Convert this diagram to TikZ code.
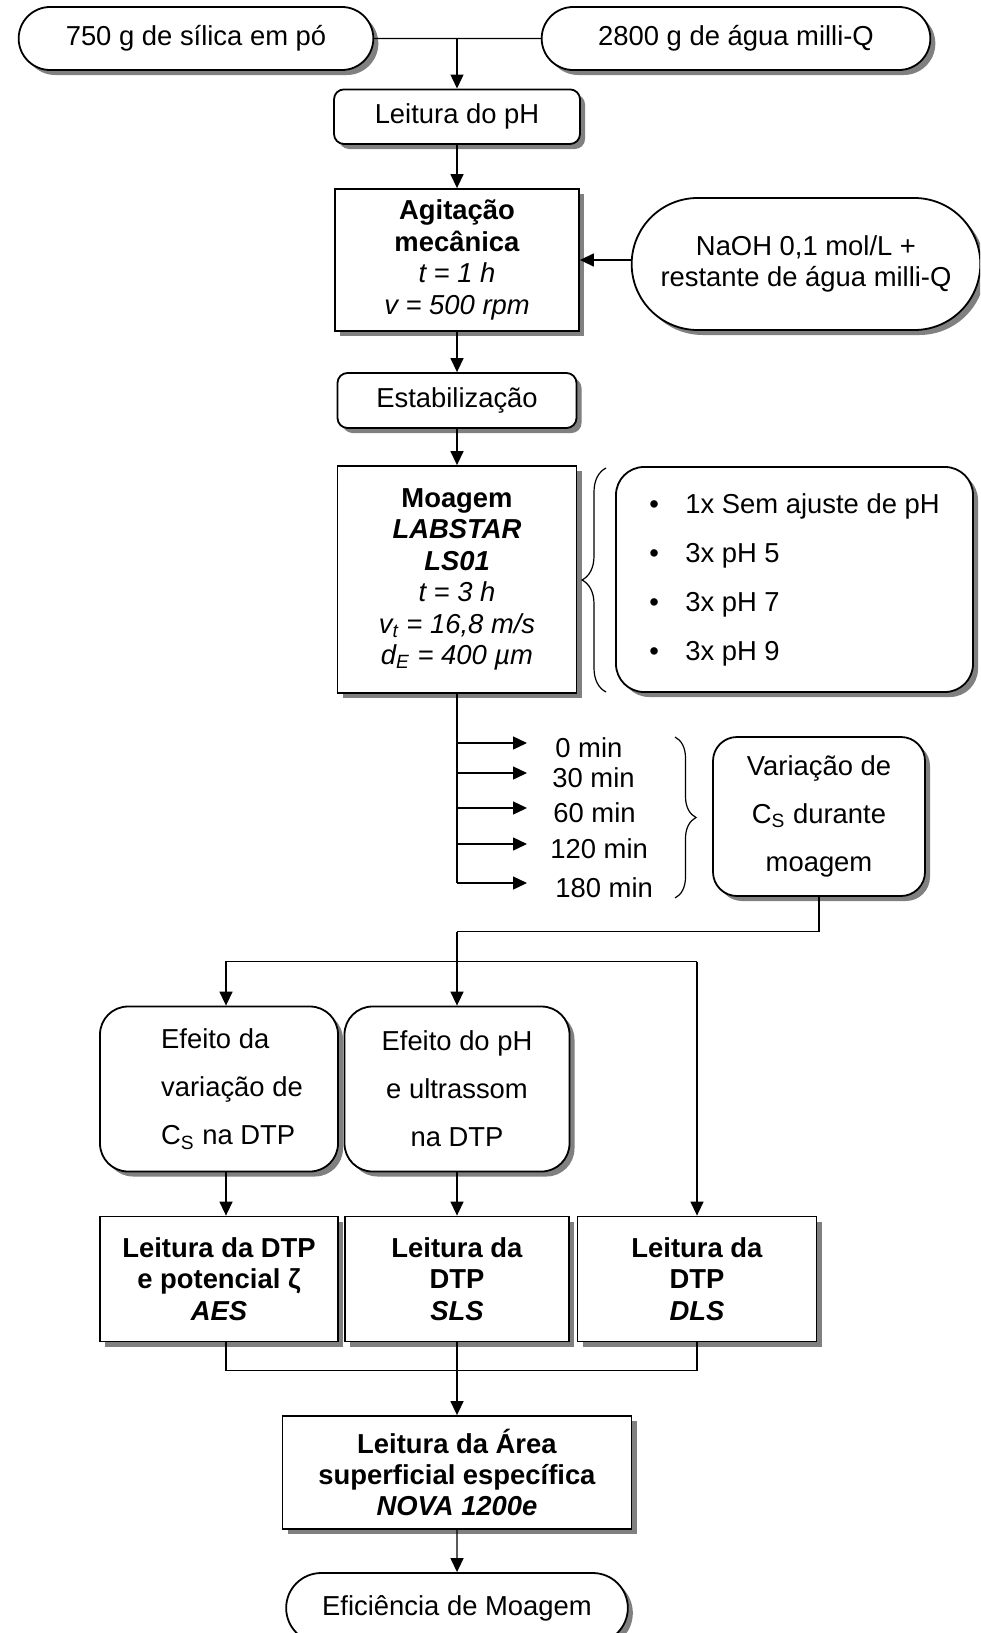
\documentclass[tikz,border=0pt]{standalone}
\usepackage{fontspec}
\setmainfont{Liberation Sans}
\usetikzlibrary{arrows.meta, shapes.misc, shadows, decorations.pathreplacing}
\tikzstyle{flow} = [-{Triangle[length=7pt, width=6.5pt]}, line width=0.7pt]
\tikzstyle{shadowed} = [drop shadow={shadow xshift=2.5pt, shadow yshift=-2.5pt, fill=black!50, opacity=1}]
\tikzstyle{terminal} = [rounded rectangle, draw=black, line width=0.9pt, fill=white, shadowed]
\tikzstyle{process} = [rectangle, draw=black, line width=0.9pt, fill=white, shadowed, align=center]
\tikzstyle{softbox} = [process, rounded corners=5pt]
\tikzstyle{bubble} = [process, rounded corners=14pt, font=\fontsize{13.7}{24}\selectfont]
\tikzstyle{curly} = [decorate, line width=0.6pt]

\begin{document}
\begin{tikzpicture}[x=0.5pt, y=-0.5pt, font=\fontsize{13.7}{15.7}\selectfont]
	\useasboundingbox (0, 0) rectangle (980, 1633);
	\clip (0, 0) rectangle (980, 1633);

	% raw materials
	\node (Silica) [terminal, minimum width=184pt, minimum height=31.5pt] at (196, 38.5) {750 g de sílica em pó};
	\node (Agua) [terminal, minimum width=201pt, minimum height=31.5pt] at (736, 38.5) {2800 g de água milli-Q};
	\draw [line width=0.7pt] (Silica) -- (Agua);
	\coordinate (Mix) at (457, 38.5);

	\node (pH) [softbox, minimum width=123pt, minimum height=27.3pt] at (457, 116.7) {Leitura do pH};
	\draw [flow] (Mix) -- (pH);

	% stirring
	\node (Agit) [process, minimum width=122pt, minimum height=71pt] at (457, 260)
		{\textbf{Agitação}\\\textbf{mecânica}\\\textit{t = 1 h}\\\textit{v = 500 rpm}};
	\draw [flow] (pH) -- (Agit);
	\node (NaOH) [terminal, minimum width=181pt, minimum height=66pt, align=center] at (806, 264)
		{NaOH 0,1 mol/L +\\restante de água milli-Q};
	\draw [flow] (NaOH.west |- Agit) -- (Agit);

	\node (Estab) [softbox, minimum width=119.5pt, minimum height=27.5pt] at (457, 400.5) {Estabilização};
	\draw [flow] (Agit) -- (Estab);

	% milling
	\node (Moag) [process, minimum width=119.5pt, minimum height=113.5pt] at (457, 579.5)
		{\textbf{Moagem}\\\textbf{\textit{LABSTAR}}\\\textbf{\textit{LS01}}\\\textit{t = 3 h}\\
		 \textit{v\textsubscript{t} = 16,8 m/s}\\\textit{d\textsubscript{E} = 400 µm}};
	\draw [flow] (Estab) -- (Moag);
	\draw [curly, decoration={brace, amplitude=12pt}] (606, 692) -- (606, 468);
	\node (Runs) [bubble, minimum width=178.5pt, minimum height=112.5pt, align=left,
		font=\fontsize{13.7}{24.5}\selectfont] at (794.5, 579.5)
		{\makebox[18pt][l]{\textbullet}1x Sem ajuste de pH\\
		 \makebox[18pt][l]{\textbullet}3x pH 5\\
		 \makebox[18pt][l]{\textbullet}3x pH 7\\
		 \makebox[18pt][l]{\textbullet}3x pH 9};

	% sampling times
	\coordinate (MoagEnd) at (457, 883);
	\draw [line width=0.7pt] (Moag) -- (MoagEnd);
	\foreach \nm/\y/\x in {0/743/555, 30/773/552, 60/808/553, 120/844/550, 180/883/555} {
		\coordinate (Tip\nm) at (527, \y);
		\node (T\nm) [anchor=west, inner sep=0] at (\x, \y+5) {\nm\ min};
		\draw [flow] (MoagEnd |- Tip\nm) -- (Tip\nm);
	}
	\draw [curly, decoration={brace, amplitude=10.5pt}] (675, 737) -- (675, 898);
	\node (Var) [bubble, rounded corners=12pt, minimum width=106pt, minimum height=79.5pt] at (819, 816.5)
		{Variação de\\C\textsubscript{S} durante\\moagem};

	% analyses
	\coordinate (Split) at (457, 931.7);
	\draw [line width=0.7pt] (Var) |- (Split);
	\node (EfDa) [bubble, minimum width=119pt, minimum height=82.5pt, align=left] at (219, 1089)
		{\hspace*{13pt}Efeito da\\\hspace*{13pt}variação de\\\hspace*{13pt}C\textsubscript{S} na DTP};
	\node (EfPH) [bubble, minimum width=112.5pt, minimum height=82.5pt] at (457, 1089)
		{Efeito do pH\\e ultrassom\\na DTP};
	\draw [flow] (Split) -- (EfPH);

	\node (Aes) [process, minimum width=119pt, minimum height=62.5pt] at (219, 1279)
		{\textbf{Leitura da DTP}\\\textbf{e potencial ζ}\\\textbf{\textit{AES}}};
	\node (Sls) [process, minimum width=112pt, minimum height=62.5pt] at (457, 1279)
		{\textbf{Leitura da}\\\textbf{DTP}\\\textbf{\textit{SLS}}};
	\node (Dls) [process, minimum width=119.5pt, minimum height=62.5pt] at (697, 1279)
		{\textbf{Leitura da}\\\textbf{DTP}\\\textbf{\textit{DLS}}};

	\coordinate (ForkL) at (226, 961.7);
	\coordinate (ForkR) at (697, 961.7);
	\draw [flow] (ForkR) -- (ForkL) -- (ForkL |- EfDa.north);
	\draw [flow] (ForkR) -- (Dls);
	\draw [flow] (EfDa.south -| ForkL) -- (Aes.north -| ForkL);
	\draw [flow] (EfPH) -- (Sls);

	% surface area and result
	\coordinate (Join) at (457, 1370.7);
	\draw [line width=0.7pt] (Aes.south -| ForkL) |- (Join -| Dls) -- (Dls.south);
	\draw [line width=0.7pt] (Sls) -- (Join);
	\node (Area) [process, minimum width=174.5pt, minimum height=56.5pt] at (457, 1472.5)
		{\textbf{Leitura da Área}\\\textbf{superficial específica}\\\textbf{\textit{NOVA 1200e}}};
	\draw [flow] (Join) -- (Area);
	\node (Efic) [terminal, minimum width=177.5pt, minimum height=35pt] at (457, 1608) {Eficiência de Moagem};
	\draw [flow] (Area) -- (Efic);
\end{tikzpicture}
\end{document}
